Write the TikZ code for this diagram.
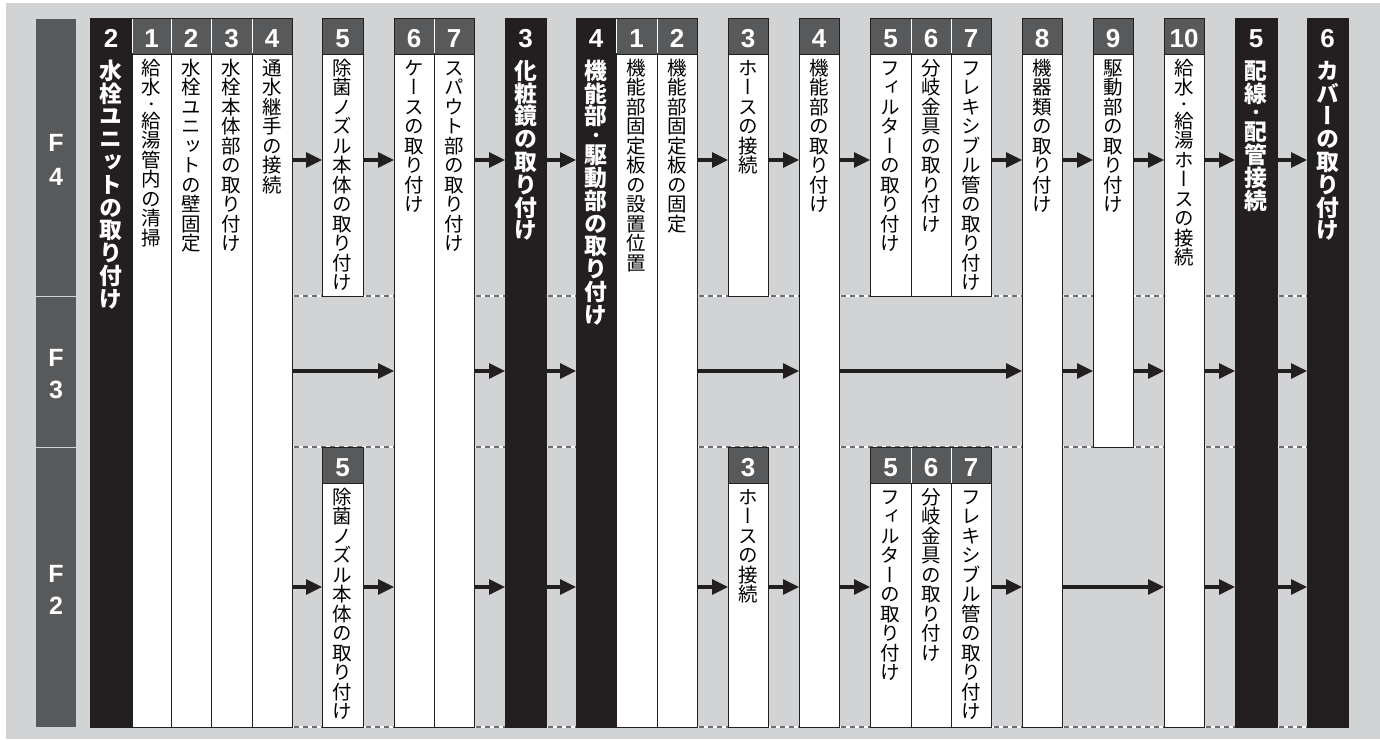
\documentclass[tikz,border=0pt]{standalone}
\usepackage{fontspec}
\setmainfont{Liberation Sans}
\newfontfamily\jp[RawFeature=+vert]{Noto Sans CJK JP}
\usetikzlibrary{arrows.meta}
\definecolor{bg}{HTML}{D1D3D4}
\definecolor{hd}{HTML}{58595B}
\definecolor{bk}{HTML}{231F20}
\definecolor{dsh}{HTML}{6D6E71}
\makeatletter
\def\vt@dot{・}
% #1 size (= pitch), #2 characters, stacked top to bottom
\newcommand\vtext[2]{\vbox{\fontsize{#1}{#1}\selectfont\baselineskip=0pt\lineskip=0pt\lineskiplimit=0pt
  \edef\vt@small{\the\dimexpr #1*7/10\relax}%
  \@tfor\vt@c:=#2\do{%
    \ifx\vt@c\vt@dot
      \hbox to 1em{\hss\fontsize{\vt@small}{\vt@small}\selectfont\vrule height .88em depth .12em width 0pt\vt@c\hss}%
    \else
      \hbox to 1em{\hss\vrule height .88em depth .12em width 0pt\smash{\vt@c}\hss}%
    \fi}}}
\makeatother
\tikzset{
  wbox/.style={draw=bk, fill=white, line width=0.9pt, inner sep=0pt, outer sep=0pt, anchor=north west},
  bbox/.style={draw=bk, fill=bk, line width=0.9pt, inner sep=0pt, outer sep=0pt, anchor=north west},
  hdrbox/.style={draw=bk, fill=hd, line width=0.9pt, inner sep=0pt, outer sep=0pt, anchor=north west},
  fbox/.style={fill=hd, inner sep=0pt, outer sep=0pt, anchor=north west, minimum width=40pt},
  num/.style={text=white, font=\bfseries\fontsize{26pt}{26pt}\selectfont, anchor=base, inner sep=0pt},
  fnum/.style={text=white, font=\bfseries\fontsize{25pt}{25pt}\selectfont, anchor=base, inner sep=0pt},
  jtxt/.style={anchor=north, inner sep=0pt, font=\jp},
  jtxtb/.style={anchor=north, inner sep=0pt, text=white, font=\jp\bfseries},
  arr/.style={draw=bk, line width=3.2pt, -{Triangle[length=16pt,width=15pt]}},
  sepl/.style={draw=white, line width=1pt},
}
% white column: name, x1, x2, y1, y2, number, text
\newcommand\wcol[7]{%
  \node[wbox, minimum width={(#3-#2)*1pt}, minimum height={(#5-#4)*1pt}] (#1) at (#2,#4) {};
  \node[hdrbox, minimum width={(#3-#2)*1pt}, minimum height=36pt] (#1h) at (#2,#4) {};
  \node[num] (#1n) at ({(#2+#3)/2},#4+29) {#6};
  \node[jtxt] (#1t) at ({(#2+#3)/2},#4+40) {\vtext{19.5pt}{#7}};
}
% black column: name, x1, x2, number, text
\newcommand\bcol[5]{%
  \node[bbox, minimum width={(#3-#2)*1pt}, minimum height=709pt] (#1) at (#2,18) {};
  \node[num] (#1n) at ({(#2+#3)/2},47) {#4};
  \node[jtxtb] (#1t) at ({(#2+#3)/2},59) {\vtext{22.8pt}{#5}};
}
\begin{document}
\begin{tikzpicture}[x=1pt,y=-1pt]
\useasboundingbox (0,0) rectangle (1380,739);
\fill[white] (0,0) rectangle (1380,739);
\fill[bg] (6,3) rectangle (1380,739);
% row coordinates
\coordinate (r4) at (0,160);
\coordinate (r3) at (0,371);
\coordinate (r2) at (0,587);
% floor labels
\node[fbox, minimum height=277pt] (F4) at (36,19) {};
\node[fbox, minimum height=150pt] (F3) at (36,297) {};
\node[fbox, minimum height=279pt] (F2) at (36,448) {};
\node[fnum] (F4a) at (56,151) {F};
\node[fnum] (F4b) at (56,185) {4};
\node[fnum] (F3a) at (56,366) {F};
\node[fnum] (F3b) at (56,398) {3};
\node[fnum] (F2a) at (56,582) {F};
\node[fnum] (F2b) at (56,614) {2};
% dashed boundaries in the gaps
\foreach \a/\b in {292/394, 474/505, 546/576, 697/799, 839/1022, 1062/1164, 1204/1235, 1277/1307}{
  \foreach \yy in {296,447,727}{
    \draw[white, line width=1.4pt] (\a,\yy) -- (\b,\yy);
    \draw[dsh, line width=1.4pt, dash pattern=on 5pt off 4pt] (\a+2,\yy) -- (\b,\yy);
  }
}
% columns
\bcol{b2}{90}{132}{2}{水栓ユニットの取り付け}
\wcol{c1}{132}{171}{18}{727}{1}{給水・給湯管内の清掃}
\wcol{c2}{171}{211}{18}{727}{2}{水栓ユニットの壁固定}
\wcol{c3}{211}{252}{18}{727}{3}{水栓本体部の取り付け}
\wcol{c4}{252}{292}{18}{727}{4}{通水継手の接続}
\wcol{c5u}{322}{363}{18}{296}{5}{除菌ノズル本体の取り付け}
\wcol{c5l}{322}{363}{447}{727}{5}{除菌ノズル本体の取り付け}
\wcol{c6}{394}{434}{18}{727}{6}{ケースの取り付け}
\wcol{c7}{434}{474}{18}{727}{7}{スパウト部の取り付け}
\bcol{b3}{505}{546}{3}{化粧鏡の取り付け}
\bcol{b4}{576}{616}{4}{機能部・駆動部の取り付け}
\wcol{d1}{616}{657}{18}{727}{1}{機能部固定板の設置位置}
\wcol{d2}{657}{697}{18}{727}{2}{機能部固定板の固定}
\wcol{d3u}{728}{768}{18}{296}{3}{ホースの接続}
\wcol{d3l}{728}{768}{447}{727}{3}{ホースの接続}
\wcol{d4}{799}{839}{18}{727}{4}{機能部の取り付け}
\wcol{d5u}{870}{911}{18}{296}{5}{フィルターの取り付け}
\wcol{d6u}{911}{951}{18}{296}{6}{分岐金具の取り付け}
\wcol{d7u}{951}{991}{18}{296}{7}{フレキシブル管の取り付け}
\wcol{d5l}{870}{911}{447}{727}{5}{フィルターの取り付け}
\wcol{d6l}{911}{951}{447}{727}{6}{分岐金具の取り付け}
\wcol{d7l}{951}{991}{447}{727}{7}{フレキシブル管の取り付け}
\wcol{d8}{1022}{1062}{18}{727}{8}{機器類の取り付け}
\wcol{d9}{1093}{1133}{18}{447}{9}{駆動部の取り付け}
\wcol{d10}{1164}{1204}{18}{727}{10}{給水・給湯ホースの接続}
\bcol{b5}{1235}{1277}{5}{配線・配管接続}
\bcol{b6}{1307}{1348}{6}{カバーの取り付け}
% header separators
\foreach \xx in {132,171,211,252,434,616,657,911,951}{
  \draw[sepl] (\xx,19) -- (\xx,53);
}
\foreach \xx in {911,951}{
  \draw[sepl] (\xx,448) -- (\xx,483);
}
% arrows F4
\foreach \p/\q in {c4/c5u, c5u/c6, c7/b3, b3/b4, d2/d3u, d3u/d4, d4/d5u, d7u/d8, d8/d9, d9/d10, d10/b5, b5/b6}{
  \draw[arr] (\p.east |- r4) -- (\q.west |- r4);
}
% arrows F3
\foreach \p/\q in {c4/c6, c7/b3, b3/b4, d2/d4, d4/d8, d8/d9, d9/d10, d10/b5, b5/b6}{
  \draw[arr] (\p.east |- r3) -- (\q.west |- r3);
}
% arrows F2
\foreach \p/\q in {c4/c5l, c5l/c6, c7/b3, b3/b4, d2/d3l, d3l/d4, d4/d5l, d7l/d8, d8/d10, d10/b5, b5/b6}{
  \draw[arr] (\p.east |- r2) -- (\q.west |- r2);
}
\end{tikzpicture}
\end{document}
